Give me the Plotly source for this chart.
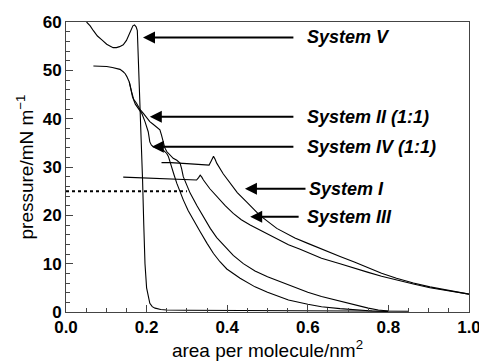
import plotly.graph_objects as go

# ---- data (area per molecule / nm^2, pressure / mN m^-1) ----
sys_v_x = [0.051, 0.060, 0.068, 0.078, 0.089, 0.101, 0.110, 0.117, 0.125, 0.133, 0.142, 0.150, 0.156, 0.162,
           0.166, 0.170, 0.174, 0.177, 0.179, 0.181, 0.184, 0.187, 0.190, 0.193, 0.196, 0.200, 0.204, 0.208,
           0.214, 0.221, 0.235, 0.250, 0.300, 0.400, 0.500, 0.600, 0.700, 0.800, 0.850]
sys_v_y = [60.0, 59.2, 58.2, 57.1, 56.3, 55.4, 55.0, 54.7, 54.7, 54.9, 55.3, 56.2, 57.3, 58.6,
           59.2, 59.4, 59.0, 58.2, 54.0, 48.0, 41.8, 34.0, 27.3, 18.0, 10.0, 5.0, 3.0, 1.8,
           1.1, 0.8, 0.5, 0.4, 0.35, 0.3, 0.3, 0.25, 0.2, 0.15, 0.15]

sys_ii_x = [0.068, 0.080, 0.090, 0.101, 0.115, 0.126, 0.134, 0.142, 0.147, 0.151, 0.157, 0.163, 0.168,
            0.175, 0.183, 0.192, 0.200, 0.208, 0.217, 0.225, 0.233, 0.237, 0.241, 0.245, 0.250, 0.258,
            0.266, 0.275, 0.280, 0.283, 0.287, 0.291, 0.300, 0.308, 0.325, 0.341, 0.358, 0.374, 0.390,
            0.415, 0.440, 0.469, 0.500, 0.552, 0.600, 0.634, 0.680, 0.717, 0.750, 0.775, 0.800]
sys_ii_y = [50.9, 50.9, 50.8, 50.8, 50.6, 50.4, 50.2, 49.7, 49.3, 48.7, 47.6, 45.5, 44.0,
            43.2, 42.0, 41.1, 40.2, 39.4, 38.8, 38.3, 37.7, 36.6, 35.2, 34.0, 33.2, 32.4,
            31.8, 31.4, 31.1, 30.8, 29.6, 28.0, 26.2, 24.6, 22.0, 19.7, 17.3, 15.4, 13.9,
            11.7, 10.0, 8.5, 7.3, 5.6, 4.1, 3.2, 2.2, 1.4, 0.8, 0.4, 0.2]

sys_iv_x = [0.157, 0.161, 0.165, 0.172, 0.180, 0.188, 0.196, 0.204, 0.208, 0.212, 0.217, 0.225, 0.233,
            0.241, 0.250, 0.254, 0.258, 0.262, 0.268, 0.275, 0.283, 0.291, 0.303, 0.316, 0.333, 0.350,
            0.366, 0.382, 0.399, 0.432, 0.469, 0.500, 0.552, 0.600, 0.634, 0.680, 0.717, 0.760, 0.800]
sys_iv_y = [47.6, 46.0, 44.5, 43.0, 42.0, 41.1, 39.4, 37.3, 35.2, 34.5, 34.2, 33.9, 33.7,
            33.5, 32.8, 32.2, 31.0, 30.1, 28.4, 26.6, 24.8, 23.2, 21.0, 19.0, 16.6, 14.2,
            12.1, 10.4, 8.9, 7.0, 5.2, 4.1, 2.5, 1.6, 1.1, 0.7, 0.4, 0.2, 0.1]

sys_i_x = [0.237, 0.260, 0.300, 0.330, 0.355, 0.360, 0.366, 0.370, 0.374, 0.390, 0.407, 0.425, 0.448,
           0.481, 0.523, 0.568, 0.600, 0.634, 0.680, 0.717, 0.750, 0.783, 0.820, 0.862, 0.903, 0.950, 1.000]
sys_i_y = [30.9, 30.9, 30.7, 30.5, 30.4, 31.2, 32.2, 31.6, 30.8, 28.6, 26.6, 24.7, 22.8,
           20.0, 17.3, 15.3, 14.2, 13.0, 11.5, 10.3, 9.1, 8.0, 7.0, 6.0, 5.2, 4.4, 3.7]

sys_iii_x = [0.142, 0.170, 0.200, 0.230, 0.260, 0.290, 0.324, 0.329, 0.333, 0.337, 0.341, 0.357, 0.374,
             0.395, 0.415, 0.435, 0.457, 0.498, 0.552, 0.581, 0.634, 0.680, 0.717, 0.750, 0.783, 0.820,
             0.862, 0.903, 0.950, 1.000]
sys_iii_y = [27.9, 27.8, 27.6, 27.5, 27.4, 27.3, 27.3, 27.8, 28.3, 27.9, 27.3, 25.5, 23.9,
             22.0, 20.4, 19.1, 18.0, 16.3, 13.9, 13.0, 11.1, 10.0, 9.0, 8.2, 7.4, 6.6,
             5.8, 5.0, 4.3, 3.7]

ref_x = [0.0, 0.30]
ref_y = [25.0, 25.0]

labels = ["System V", "System II (1:1)", "System IV (1:1)", "System I", "System III"]
arrow_tip_x = [0.191, 0.208, 0.213, 0.444, 0.457]
arrow_tip_y = [56.8, 40.4, 34.2, 25.5, 19.7]
arrow_tail_x = [0.568, 0.568, 0.568, 0.598, 0.581]
label_x = [0.593, 0.593, 0.593, 0.597, 0.593]

x_ticks = [0.0, 0.2, 0.4, 0.6, 0.8, 1.0]
y_ticks = [0, 10, 20, 30, 40, 50, 60]

FONT = "Liberation Sans, Arial, Helvetica, sans-serif"

fig = go.Figure()
line_style = dict(color="black", width=1.1)
for xs, ys in [(sys_v_x, sys_v_y), (sys_ii_x, sys_ii_y), (sys_iv_x, sys_iv_y),
               (sys_i_x, sys_i_y), (sys_iii_x, sys_iii_y)]:
    fig.add_trace(go.Scatter(x=xs, y=ys, mode="lines", line=line_style,
                             showlegend=False, hoverinfo="skip"))
fig.add_trace(go.Scatter(x=ref_x, y=ref_y, mode="lines",
                         line=dict(color="black", width=2, dash="dot"),
                         showlegend=False, hoverinfo="skip"))

for lab, tx, ty, ax, lx in zip(labels, arrow_tip_x, arrow_tip_y, arrow_tail_x, label_x):
    fig.add_annotation(x=tx, y=ty, ax=ax, ay=ty, xref="x", yref="y", axref="x", ayref="y",
                       text="", showarrow=True, arrowhead=2, arrowsize=1.2, arrowwidth=2,
                       arrowcolor="black")
    fig.add_annotation(x=lx, y=ty, xref="x", yref="y", text="<b><i>" + lab + "</i></b>",
                       showarrow=False, xanchor="left", yanchor="middle",
                       font=dict(family=FONT, size=18, color="black"))

# page body has an 8px margin, so the figure is sized to fit inside the window
fig.update_layout(
    width=479, height=355,
    margin=dict(l=58, r=18, t=14, b=51, autoexpand=False),
    paper_bgcolor="white", plot_bgcolor="white",
    font=dict(family=FONT, color="black"),
    xaxis=dict(range=[0, 1], tickvals=x_ticks, ticktext=[f"{v:.1f}" for v in x_ticks],
               automargin=False,
               ticks="inside", ticklen=7, tickwidth=1, tickcolor="#444",
               minor=dict(dtick=0.05, ticks="inside", ticklen=4, tickcolor="#444"),
               showline=True, mirror=True, linecolor="#444", linewidth=1,
               showgrid=False, zeroline=False,
               tickfont=dict(family=FONT, size=17, color="black", weight="bold"),
               title=dict(text="area per molecule/nm<sup>2</sup>",
                          font=dict(family=FONT, size=19, color="black"), standoff=2)),
    yaxis=dict(range=[0, 60], tickvals=y_ticks,
               automargin=False,
               ticks="inside", ticklen=7, tickwidth=1, tickcolor="#444",
               minor=dict(dtick=2, ticks="inside", ticklen=4, tickcolor="#444"),
               showline=True, mirror=True, linecolor="#444", linewidth=1,
               showgrid=False, zeroline=False,
               tickfont=dict(family=FONT, size=17, color="black", weight="bold"),
               title=dict(text="pressure/mN m<sup>\u22121</sup>",
                          font=dict(family=FONT, size=19, color="black"), standoff=4)),
)

fig.write_html("out.html")
